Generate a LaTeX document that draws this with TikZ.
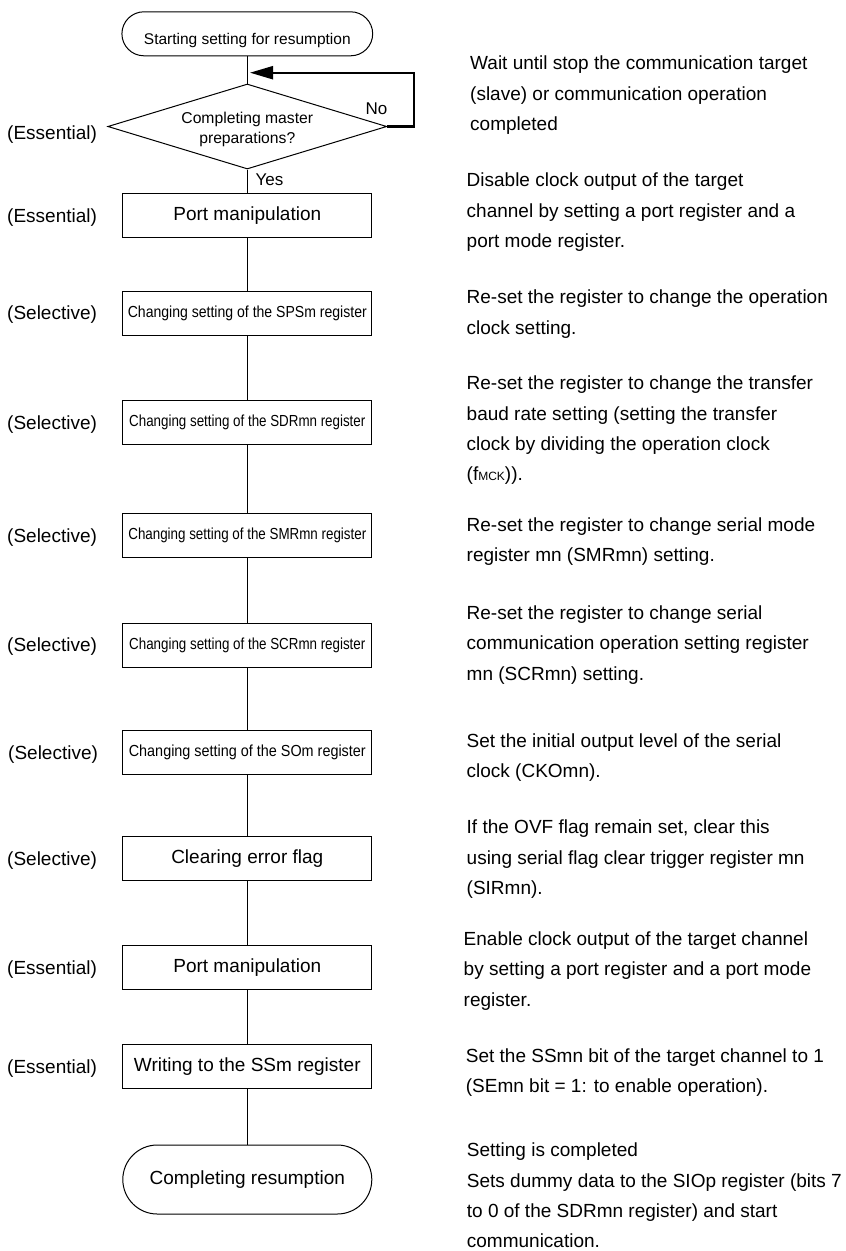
\documentclass[tikz,border=0pt]{standalone}
\usepackage{fontspec}
\usepackage{graphicx}
\setmainfont{Liberation Sans}
\usetikzlibrary{shapes.geometric,shapes.misc,arrows.meta}
\begin{document}
\begin{tikzpicture}[x=1pt,y=-1pt,
  conn/.style={line width=1pt},
  loopline/.style={line width=2.2pt,-{Triangle[length=23pt,width=13pt]}},
  term/.style={draw, line width=1pt, rounded rectangle, minimum width=249pt, inner sep=0pt},
  box/.style={draw, line width=1pt, rectangle, minimum width=249pt, minimum height=44pt, inner sep=0pt, font=\fontsize{19}{22}\selectfont},
  sbox/.style={box, font=\fontsize{16}{19}\selectfont},
  dec/.style={draw, diamond, line width=1pt, minimum width=279pt, minimum height=85pt, inner sep=0pt},
  lab/.style={anchor=base west, inner sep=0pt, font=\fontsize{19}{22}\selectfont},
  yn/.style={anchor=base west, inner sep=0pt, font=\fontsize{17}{20}\selectfont},
  desc/.style={anchor=north west, inner sep=0pt, align=left, font=\fontsize{19}{30.4}\selectfont},
]
\useasboundingbox (0,0) rectangle (846,1251);

% flow nodes
\node[term, minimum height=44pt, text height=33pt, text depth=11pt, font=\fontsize{15.5}{18}\selectfont] (start) at (247.3,33.8) {Starting setting for resumption};
\node[dec] (dec) at (247.3,126.5) {};
\node[inner sep=0pt, align=center, font=\fontsize{15.7}{20}\selectfont] (dectext) at (247.3,129.2) {Completing master\\preparations?};
\node[box] (port1) at (247.3,215.2) {Port manipulation};
\node[sbox] (sps) at (247.3,313) {\scalebox{0.878}[1]{Changing setting of the SPSm register}};
\node[sbox] (sdr) at (247.3,422.3) {\scalebox{0.835}[1]{Changing setting of the SDRmn register}};
\node[sbox] (smr) at (247.3,535.3) {\scalebox{0.836}[1]{Changing setting of the SMRmn register}};
\node[sbox] (scr) at (247.3,645) {\scalebox{0.835}[1]{Changing setting of the SCRmn register}};
\node[sbox] (som) at (247.3,752.3) {\scalebox{0.90}[1]{Changing setting of the SOm register}};
\node[box] (clr) at (247.3,858.8) {Clearing error flag};
\node[box] (port2) at (247.3,967.3) {Port manipulation};
\node[box] (ssm) at (247.3,1066.5) {Writing to the SSm register};
\node[term, minimum height=69pt, font=\fontsize{19}{22}\selectfont] (finish) at (247.3,1179.5) {Completing resumption};

\coordinate (merge) at (250,72.7);

% connectors
\draw[conn] (start.south) -- (dec.north);
\draw[conn] (dec.south) -- (port1.north);
\draw[conn] (port1.south) -- (sps.north);
\draw[conn] (sps.south) -- (sdr.north);
\draw[conn] (sdr.south) -- (smr.north);
\draw[conn] (smr.south) -- (scr.north);
\draw[conn] (scr.south) -- (som.north);
\draw[conn] (som.south) -- (clr.north);
\draw[conn] (clr.south) -- (port2.north);
\draw[conn] (port2.south) -- (ssm.north);
\draw[conn] (ssm.south) -- (finish.north);
\draw[loopline] (dec.east) -- ++(27,0) |- (merge);

\node[yn] (no) at (365.5,114) {No};
\node[yn] (yes) at (255.5,185) {Yes};

% left labels
\node[lab] (l0) at (7,139.5) {(Essential)};
\node[lab] (l1) at (7,222) {(Essential)};
\node[lab] (l2) at (7,319.8) {(Selective)};
\node[lab] (l3) at (7,429.1) {(Selective)};
\node[lab] (l4) at (7,542.1) {(Selective)};
\node[lab] (l5) at (7,651.8) {(Selective)};
\node[lab] (l6) at (8,759.1) {(Selective)};
\node[lab] (l7) at (7,865.6) {(Selective)};
\node[lab] (l8) at (7,974.1) {(Essential)};
\node[lab] (l9) at (7,1073.3) {(Essential)};

% right descriptions (y = first baseline - 20)
\node[desc] (d1) at (470,49.5) {\rule{0pt}{20pt}Wait until stop the communication target\\(slave) or communication operation\\completed};
\node[desc] (d2) at (466.5,166.5) {\rule{0pt}{20pt}Disable clock output of the target\\channel by setting a port register and a\\port mode register.};
\node[desc] (d3) at (466.5,283.5) {\rule{0pt}{20pt}Re-set the register to change the operation\\clock setting.};
\node[desc] (d4) at (466.5,369.5) {\rule{0pt}{20pt}Re-set the register to change the transfer\\baud rate setting (setting the transfer\\clock by dividing the operation clock\\(f{\fontsize{12}{12}\selectfont MCK})).};
\node[desc] (d5) at (466.5,511) {\rule{0pt}{20pt}Re-set the register to change serial mode\\register mn (SMRmn) setting.};
\node[desc] (d6) at (466.5,599) {\rule{0pt}{20pt}Re-set the register to change serial\\communication operation setting register\\mn (SCRmn) setting.};
\node[desc] (d7) at (466.5,727) {\rule{0pt}{20pt}Set the initial output level of the serial\\clock (CKOmn).};
\node[desc] (d8) at (466.5,813.5) {\rule{0pt}{20pt}If the OVF flag remain set, clear this\\using serial flag clear trigger register mn\\(SIRmn).};
\node[desc] (d9) at (463.5,925) {\rule{0pt}{20pt}Enable clock output of the target channel\\by setting a port register and a port mode\\register.};
\node[desc] (d10) at (465.7,1042) {\rule{0pt}{20pt}Set the SSmn bit of the target channel to 1\\(SEmn bit = 1: to enable operation).};
\node[desc] (d11) at (466.7,1136.5) {\rule{0pt}{20pt}Setting is completed\\Sets dummy data to the SIOp register (bits 7\\to 0 of the SDRmn register) and start\\communication.};
\end{tikzpicture}
\end{document}
